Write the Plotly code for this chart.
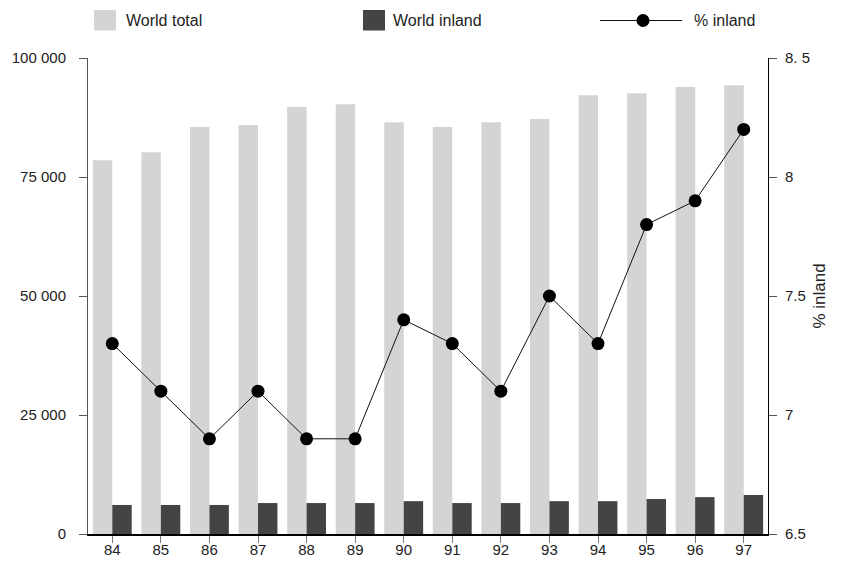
import plotly.graph_objects as go

years = ["84", "85", "86", "87", "88", "89", "90", "91", "92", "93", "94", "95", "96", "97"]
world_total = [78500, 80200, 85500, 85900, 89700, 90300, 86500, 85500, 86500, 87200, 92200, 92600, 93900, 94300]
world_inland = [6100, 6100, 6100, 6500, 6500, 6500, 6900, 6500, 6500, 6900, 6900, 7350, 7750, 8200]
pct_inland = [7.3, 7.1, 6.9, 7.1, 6.9, 6.9, 7.4, 7.3, 7.1, 7.5, 7.3, 7.8, 7.9, 8.2]

left_ticks = [0, 25000, 50000, 75000, 100000]
left_labels = ["0", "25 000", "50 000", "75 000", "100 000"]
right_ticks = [6.5, 7, 7.5, 8, 8.5]
right_labels = ["6.5", "7", "7.5", "8", "8. 5"]

LIGHT = "#d4d4d4"
DARK = "#444444"
FONT = "Liberation Sans, Arial, sans-serif"

# page body has an 8px default margin; figure is sized to fit the window
OFF = 8
W, H = 844, 563
L, R, T, B = 80, 84, 50, 37
PW = W - L - R
PH = H - T - B


def px(x):
    # page pixel x -> paper x
    return (x - OFF - L) / PW


def py(y):
    # page pixel y -> paper y
    return (H - B - (y - OFF)) / PH


fig = go.Figure()
fig.add_trace(go.Bar(x=years, y=world_total, name="World total", marker_color=LIGHT,
                     marker_line_width=0, showlegend=False))
fig.add_trace(go.Bar(x=years, y=world_inland, name="World inland", marker_color=DARK,
                     marker_line_width=0, showlegend=False))
fig.add_trace(go.Scatter(x=years, y=pct_inland, name="% inland", yaxis="y2", mode="lines+markers",
                         line=dict(color="#111111", width=1),
                         marker=dict(color="black", size=13), showlegend=False,
                         cliponaxis=False))

shapes = [
    dict(type="rect", xref="paper", yref="paper", x0=px(94), x1=px(116), y0=py(30.5), y1=py(10),
         fillcolor=LIGHT, line_width=0),
    dict(type="rect", xref="paper", yref="paper", x0=px(363), x1=px(385), y0=py(30.5), y1=py(10),
         fillcolor=DARK, line_width=0),
    dict(type="line", xref="paper", yref="paper", x0=px(600), x1=px(682), y0=py(20.5), y1=py(20.5),
         line=dict(color="#111111", width=1)),
    dict(type="circle", xref="paper", yref="paper", xsizemode="pixel", ysizemode="pixel",
         xanchor=px(643), yanchor=py(20.5), x0=-6.5, x1=6.5, y0=-6.5, y1=6.5,
         fillcolor="black", line_width=0),
]
annotations = [
    dict(text="World total", xref="paper", yref="paper", x=px(124), y=py(20.5), xanchor="left",
         yanchor="middle", showarrow=False, font=dict(size=16, color="#222")),
    dict(text="World inland", xref="paper", yref="paper", x=px(391), y=py(20.5), xanchor="left",
         yanchor="middle", showarrow=False, font=dict(size=16, color="#222")),
    dict(text="% inland", xref="paper", yref="paper", x=px(692), y=py(20.5), xanchor="left",
         yanchor="middle", showarrow=False, font=dict(size=16, color="#222")),
]

fig.update_layout(
    template="none",
    width=W, height=H,
    margin=dict(l=L, r=R, t=T, b=B, pad=0, autoexpand=False),
    paper_bgcolor="white", plot_bgcolor="white",
    font=dict(family=FONT, size=15, color="#222"),
    barmode="group", bargap=0.2, bargroupgap=0,
    shapes=shapes, annotations=annotations,
    xaxis=dict(type="category", categoryorder="array", categoryarray=years,
               range=[-0.5, len(years) - 0.5], automargin=False,
               showgrid=False, zeroline=False, showline=True, linecolor="black", linewidth=2,
               ticks="outside", ticklen=7, tickcolor="#777", tickwidth=1,
               ticklabelstandoff=-6, tickfont=dict(size=15)),
    yaxis=dict(range=[0, 100000], tickvals=left_ticks, ticktext=left_labels, automargin=False,
               showgrid=False, zeroline=False, showline=True, linecolor="#555", linewidth=1,
               ticks="outside", ticklen=8, tickcolor="#555", tickwidth=1,
               ticklabelstandoff=10, tickfont=dict(size=15)),
    yaxis2=dict(range=[6.5, 8.5], tickvals=right_ticks, ticktext=right_labels,
                overlaying="y", side="right", anchor="x", automargin=False,
                showgrid=False, zeroline=False, showline=True, linecolor="black", linewidth=1,
                ticks="outside", ticklen=8, tickcolor="#555", tickwidth=1,
                ticklabelstandoff=5, tickfont=dict(size=15),
                title=dict(text="% inland", font=dict(size=17), standoff=4)),
)

fig.write_html("out.html")
